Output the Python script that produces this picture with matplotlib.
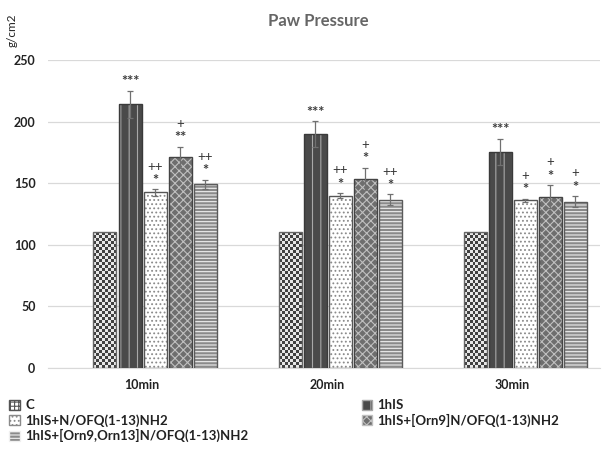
import matplotlib.pyplot as plt
import numpy as np
from matplotlib.patches import Patch

plt.rcParams['font.family'] = ['Lato', 'DejaVu Sans']
plt.rcParams['hatch.linewidth'] = 0.8

groups = ['10min', '20min', '30min']
series = ['C', '1hIS', '1hIS+N/OFQ(1-13)NH2', '1hIS+[Orn9]N/OFQ(1-13)NH2',
          '1hIS+[Orn9,Orn13]N/OFQ(1-13)NH2']

c_vals = [110, 110, 110]
his_vals = [214, 190, 175.5]
nofq_vals = [142.5, 140, 136]
orn9_vals = [171, 153.5, 139]
orn913_vals = [149, 136.5, 135]

c_err = [0, 0, 0]
his_err = [11, 10.5, 10.5]
nofq_err = [2.5, 2, 1.5]
orn9_err = [8.5, 9, 9.5]
orn913_err = [4, 4.5, 4.5]

# significance marks: (upper line, lower line)
his_marks = [('', '***'), ('', '***'), ('', '***')]
nofq_marks = [('++', '*'), ('++', '*'), ('+', '*')]
orn9_marks = [('+', '**'), ('+', '*'), ('+', '*')]
orn913_marks = [('++', '*'), ('++', '*'), ('+', '*')]

values = [c_vals, his_vals, nofq_vals, orn9_vals, orn913_vals]
errors = [c_err, his_err, nofq_err, orn9_err, orn913_err]
marks = [None, his_marks, nofq_marks, orn9_marks, orn913_marks]

# face, hatch, hatch colour, edge
styles = [
    ('white', None, None, '#666666'),
    ('#4a4a4a', '||', '#a8a8a8', '#3a3a3a'),
    ('white', '....', '#8a8a8a', '#555555'),
    ('#6e6e6e', 'xxxx', '#c0c0c0', '#444444'),
    ('#8a8a8a', '-----', '#f0f0f0', '#5a5a5a'),
]

fig = plt.figure(figsize=(6.11, 4.5), dpi=100)
ax = fig.add_axes([48 / 611, 1 - 368 / 450, (600 - 48) / 611, (368 - 60) / 450])

x = np.arange(len(groups))
step = 25 / 185
width = 23 / 185

for i, vals in enumerate(values):
    pos = x + (i - 2) * step
    face, hatch, hcol, edge = styles[i]
    if hatch:
        ax.bar(pos, vals, width, color=face, hatch=hatch, edgecolor=hcol, linewidth=0, zorder=2)
        ax.bar(pos, vals, width, fill=False, edgecolor=edge, linewidth=1, zorder=3)
    else:
        bars = ax.bar(pos, vals, width, fill=False, edgecolor=edge, linewidth=1, zorder=3)
        # checkerboard texture for the control bars
        for b in bars:
            x0, y0 = b.get_x(), b.get_y()
            w, h = b.get_width(), b.get_height()
            nc = 8
            nr = int(round(h * 1.232 / 3.0))
            board = (np.add.outer(np.arange(nr), np.arange(nc)) % 2).astype(float)
            ax.imshow(board, extent=(x0, x0 + w, y0, y0 + h), cmap='gray_r',
                      vmin=-0.15, vmax=1.4, interpolation='nearest',
                      aspect='auto', zorder=2)
    if any(errors[i]):
        ax.errorbar(pos, vals, yerr=errors[i], fmt='none', ecolor='#707070',
                    elinewidth=0.9, capsize=2.5, capthick=0.9, zorder=4)
    if marks[i]:
        for p, v, e, (up, low) in zip(pos, vals, errors[i], marks[i]):
            top = v + e
            ax.annotate(low, (p, top), xytext=(0, 1), textcoords='offset points',
                        ha='center', va='bottom', fontsize=10.5, fontweight='bold',
                        color='#3a3a3a')
            if up:
                ax.annotate(up, (p, top), xytext=(0, 12), textcoords='offset points',
                            ha='center', va='bottom', fontsize=9.5, color='#3a3a3a')

ax.set_xlim(-(155 - 48) / 185, 2 + (600 - 525) / 185)
ax.set_ylim(0, 250)
ax.set_yticks(np.arange(0, 251, 50))
ax.yaxis.grid(True, color='#d9d9d9', linewidth=0.9, zorder=0)
ax.set_axisbelow(True)
ax.set_xticks(x - 13 / 185)
ax.set_xticklabels(groups)
ax.tick_params(axis='both', length=0, labelsize=9, labelcolor='#222222')
for lab in ax.get_xticklabels() + ax.get_yticklabels():
    lab.set_fontweight('bold')
ax.tick_params(axis='x', pad=8)
ax.tick_params(axis='y', pad=9)
for s in ['top', 'right', 'left']:
    ax.spines[s].set_visible(False)
ax.spines['bottom'].set_color('#d9d9d9')

fig.text(318 / 611, 1 - 21 / 450, 'Paw Pressure', ha='center', va='center',
         fontsize=12, fontweight='bold', color='#666666')
fig.text(12 / 611, 1 - 30 / 450, 'g/cm2', rotation=90, ha='center', va='center',
         fontsize=8.5, color='#222222')

handles = []
for i, name in enumerate(series):
    face, hatch, hcol, edge = styles[i]
    if hatch is None:
        handles.append(Patch(facecolor='white', hatch='++++', edgecolor='#555555', label=name))
    else:
        handles.append(Patch(facecolor=face, hatch=hatch, edgecolor=hcol, label=name))
order = [0, 2, 4, 1, 3]
leg = fig.legend([handles[k] for k in order], [series[k] for k in order],
                 loc='upper left', bbox_to_anchor=(4 / 611, 1 - 394 / 450), ncol=2,
                 frameon=False, fontsize=9.5, handlelength=0.8, handleheight=0.8,
                 handletextpad=0.4, columnspacing=8.6, labelspacing=0.2,
                 borderaxespad=0)
for t in leg.get_texts():
    t.set_fontweight('bold')
    t.set_color('#222222')

fig.savefig('out.png', dpi=100)
